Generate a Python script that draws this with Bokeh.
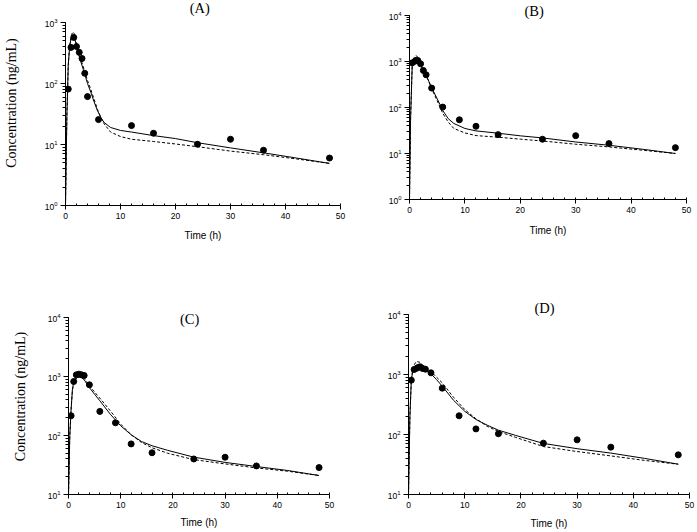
from bokeh.plotting import figure
from bokeh.layouts import row, column
from bokeh.models import Label, LogTicker, SingleIntervalTicker, LogTickFormatter, Range1d
from bokeh.embed import file_html
from bokeh.resources import INLINE

# ---------------- data ----------------
# Panel A
obs_t_A = [0.5, 1, 1.5, 2, 2.5, 3, 3.5, 4, 6, 12, 16, 24, 30, 36, 48]
obs_c_A = [81, 391, 569, 404, 324, 257, 147, 61, 25.6, 20.4, 15.3, 10.1, 12.2, 8.05, 6.0]
fit_t_A = [0, 0.25, 0.5, 0.75, 1.0, 1.3, 1.6, 2.1, 2.7, 3.3, 4.0, 4.6, 5.2, 5.8, 6.4, 7.0,
           8.2, 10, 12, 16, 20, 24, 30, 36, 42, 48]
solid_A = [1, 30, 200, 400, 530, 620, 590, 370, 240, 163, 100, 72, 50, 36, 28, 23,
           19, 17, 16, 14, 12.5, 10.7, 8.8, 7.3, 6.0, 4.9]
dash_A = [1, 30, 200, 420, 580, 700, 660, 410, 265, 180, 112, 80, 55, 38, 28, 22,
          16, 13.5, 12.2, 11.2, 10.2, 9.2, 7.8, 6.8, 5.8, 4.9]

# Panel B
obs_t_B = [0.5, 1, 1.5, 2, 2.5, 3, 4, 6, 9, 12, 16, 24, 30, 36, 48]
obs_c_B = [935, 1016, 1050, 890, 638, 513, 264, 102, 54, 39, 25.7, 20.4, 24.4, 16.4, 13.4]
fit_t_B = [0, 0.2, 0.5, 0.8, 1.2, 1.6, 2, 2.5, 3, 3.5, 4, 5, 6, 7, 8, 10, 12, 16, 20,
           24, 30, 36, 42, 48]
solid_B = [1, 60, 900, 1150, 1250, 1150, 820, 640, 500, 370, 268, 155, 86, 57, 45, 35,
           31, 27.6, 24.2, 21.8, 17.8, 15.1, 12.4, 10]
dash_B = [1, 60, 900, 1200, 1350, 1200, 850, 650, 500, 360, 255, 140, 75, 48, 35, 28,
          24.5, 22.6, 20.5, 18.7, 15.9, 13.9, 11.8, 10]

# Panel C
obs_t_C = [0.5, 1, 1.5, 2, 2.5, 3, 4, 6, 9, 12, 16, 24, 30, 36, 48]
obs_c_C = [216, 823, 1067, 1095, 1067, 1040, 723, 256, 164, 72, 51, 40, 42.8, 30.5, 28.6]
fit_t_C = [0, 0.25, 0.5, 0.75, 1, 1.5, 2, 2.5, 3, 4, 5, 6, 8, 10, 12, 14, 16, 19, 24,
           30, 36, 42, 48]
solid_C = [10, 100, 280, 600, 800, 950, 990, 960, 880, 650, 500, 388, 230, 146, 103,
           79, 67, 56, 43, 35, 29.8, 25.5, 21]
dash_C = [10, 100, 280, 580, 780, 940, 1010, 1000, 930, 695, 545, 430, 263, 156, 103,
          76, 62, 50, 39, 33, 28.2, 24.8, 21]

# Panel D
obs_t_D = [0.5, 1, 1.5, 2, 2.5, 3, 4, 6, 9, 12, 16, 24, 30, 36, 48]
obs_c_D = [805, 1211, 1275, 1342, 1259, 1227, 1066, 592, 205, 124, 103, 71.7, 81.5, 61.5, 45.8]
fit_t_D = [0, 0.25, 0.5, 0.75, 1, 1.4, 2, 2.5, 3, 4, 5, 6, 8, 10, 12, 14, 16, 19, 24,
           30, 36, 42, 48]
solid_D = [10, 200, 800, 1150, 1320, 1450, 1400, 1300, 1210, 1025, 820, 640, 373, 244,
           178, 143, 118, 97, 71, 58, 49, 40, 32]
dash_D = [10, 200, 800, 1200, 1450, 1650, 1600, 1450, 1325, 1122, 900, 727, 418, 261,
          183, 137, 112, 90, 63, 52, 44, 37, 32]

x_label = "Time (h)"
y_label = "Concentration (ng/mL)"
titles = ["(A)", "(B)", "(C)", "(D)"]

SERIF = "Liberation Serif"
SANS = "Liberation Sans"


def make_panel(title, obs_t, obs_c, fit_t, solid, dash, ybounds, ytop, fw, fh, borders,
               ylab, ylab_standoff, xlab_standoff, tpos):
    left, right, top, bottom = borders
    p = figure(frame_width=fw, frame_height=fh,
               x_range=Range1d(0, 50), y_range=Range1d(ybounds[0], ytop),
               y_axis_type="log", output_backend="svg", toolbar_location=None,
               min_border_left=left, min_border_right=right,
               min_border_top=top, min_border_bottom=bottom,
               align="start")
    p.outline_line_color = None
    p.grid.visible = False
    p.background_fill_color = "white"
    p.border_fill_color = "white"

    p.line(fit_t, solid, line_color="black", line_width=1)
    p.line(fit_t, dash, line_color="black", line_width=1, line_dash="3 2")
    p.scatter(obs_t, obs_c, size=6, color="black")

    xa = p.xaxis[0]
    xa.ticker = SingleIntervalTicker(interval=10, num_minor_ticks=5)
    xa.major_tick_out = 4
    xa.major_tick_in = 0
    xa.minor_tick_in = 2
    xa.minor_tick_out = 0
    xa.major_label_standoff = 3
    xa.major_label_text_font = SANS
    xa.major_label_text_font_size = "8.5px"
    xa.axis_label = x_label
    xa.axis_label_text_font = SANS
    xa.axis_label_text_font_size = "10px"
    xa.axis_label_text_font_style = "normal"
    xa.axis_label_standoff = xlab_standoff

    ya = p.yaxis[0]
    ya.ticker = LogTicker(mantissas=[1], num_minor_ticks=10)
    ya.formatter = LogTickFormatter()
    ya.bounds = ybounds
    ya.major_tick_out = 5
    ya.major_tick_in = 0
    ya.minor_tick_out = 3
    ya.minor_tick_in = 0
    ya.major_label_standoff = 3
    ya.major_label_text_font = SANS
    ya.major_label_text_font_size = "8.5px"
    if ylab:
        ya.axis_label = y_label
        ya.axis_label_text_font = SERIF
        ya.axis_label_text_font_size = "14px"
        ya.axis_label_text_font_style = "normal"
        ya.axis_label_standoff = ylab_standoff

    for ax in (xa, ya):
        ax.axis_line_color = "black"
        ax.major_tick_line_color = "black"
        ax.minor_tick_line_color = "black"
        ax.major_label_text_color = "black"
        ax.axis_label_text_color = "black"

    p.add_layout(Label(x=tpos[0], y=tpos[1], text=title, text_align="center",
                       text_baseline="middle", text_font=SERIF,
                       text_font_size="14.5px", text_color="black"))
    return p


pA = make_panel(titles[0], obs_t_A, obs_c_A, fit_t_A, solid_A, dash_A, (1, 1000), 2295,
                275, 205, (63, 25, 0, 60), True, 23, 8, (24.4, 1729))
pB = make_panel(titles[1], obs_t_B, obs_c_B, fit_t_B, solid_B, dash_B, (1, 10000), 21150,
                277, 199, (44, 12, 0, 66), False, 0, 9, (22.5, 12214))
pC = make_panel(titles[2], obs_t_C, obs_c_C, fit_t_C, solid_C, dash_C, (10, 10000), 20990,
                261, 196, (68, 34, 33, 37), True, 17, 6, (23.2, 9506))
pD = make_panel(titles[3], obs_t_D, obs_c_D, fit_t_D, solid_D, dash_D, (10, 10000), 18478,
                281, 196, (45, 7, 33, 37), False, 0, 7, (24.2, 12830))

layout = column(row(pA, pB, align="start"), row(pC, pD, align="start"), align="start")

open("out.html", "w").write(file_html(layout, INLINE))
